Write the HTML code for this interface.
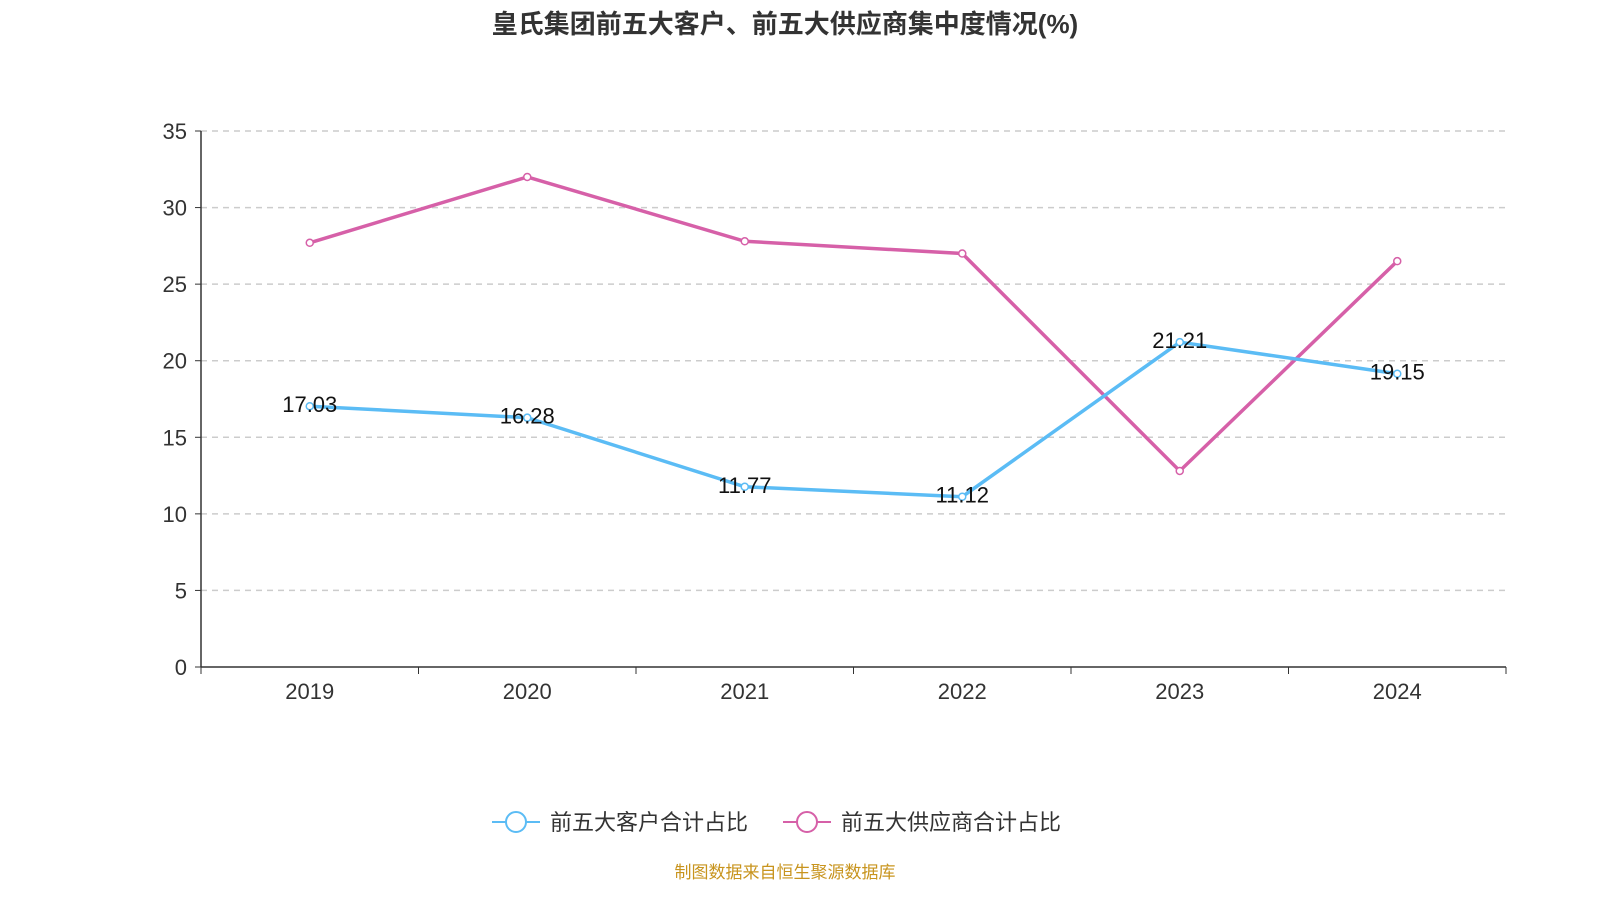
<!DOCTYPE html>
<html><head><meta charset="utf-8"><style>
body{margin:0;background:#fff;font-family:"Liberation Sans","Noto Sans CJK SC",sans-serif}
</style></head><body>
<svg id="c" width="1600" height="900" xmlns="http://www.w3.org/2000/svg">
<text x="785" y="33" text-anchor="middle" font-size="26" font-weight="bold" fill="#333" font-family="Liberation Sans,Noto Sans CJK SC,sans-serif">皇氏集团前五大客户、前五大供应商集中度情况(%)</text>
<g id="grid"></g><g id="axes"></g><g id="series"></g>
<g>
<line x1="492" y1="822" x2="540" y2="822" stroke="#5bbcf5" stroke-width="2"/>
<circle cx="516" cy="822" r="10" fill="#fff" stroke="#5bbcf5" stroke-width="2"/>
<text x="550" y="830" font-size="22" fill="#333">前五大客户合计占比</text>
<line x1="783" y1="822" x2="831" y2="822" stroke="#d660a8" stroke-width="2"/>
<circle cx="807" cy="822" r="10" fill="#fff" stroke="#d660a8" stroke-width="2"/>
<text x="841" y="830" font-size="22" fill="#333">前五大供应商合计占比</text>
</g>
<text x="785" y="878" text-anchor="middle" font-size="17" fill="#c8941e">制图数据来自恒生聚源数据库</text>
</svg>
<script>
const categories=["2019","2020","2021","2022","2023","2024"];
const customers=[17.03,16.28,11.77,11.12,21.21,19.15];
const suppliers=[27.7,32.0,27.8,27.0,12.8,26.5];
const yTicks=[0,5,10,15,20,25,30,35];
const NS="http://www.w3.org/2000/svg";
const L=201,R=1506,T=131,B=667,yMax=35;
const x=i=>L+(R-L)/categories.length*(i+0.5);
const y=v=>B-(B-T)*v/yMax;
function mk(tag,attrs,parent){const e=document.createElementNS(NS,tag);for(const k in attrs)e.setAttribute(k,attrs[k]);document.getElementById(parent).appendChild(e);return e;}
yTicks.forEach(t=>{
 if(t>0){const g=mk('line',{x1:L,x2:R,y1:y(t),y2:y(t),stroke:'#ccc','stroke-dasharray':'6,5','stroke-width':1.5},'grid');
 
 }
 mk('line',{x1:L-6,x2:L,y1:y(t),y2:y(t),stroke:'#333'},'axes');
 const tx=mk('text',{x:L-14,y:y(t)+8,'text-anchor':'end','font-size':22,fill:'#333'},'axes');tx.textContent=t;
 
 
});
mk('line',{x1:L,x2:L,y1:T,y2:B,stroke:'#333','stroke-width':1.5},'axes');
mk('line',{x1:L,x2:R,y1:B,y2:B,stroke:'#333','stroke-width':1.5},'axes');
for(let i=0;i<=categories.length;i++){const px=L+(R-L)/categories.length*i;mk('line',{x1:px,x2:px,y1:B,y2:B+7,stroke:'#333'},'axes');}
categories.forEach((c,i)=>{const t=mk('text',{x:x(i),y:699,'text-anchor':'middle','font-size':22,fill:'#333'},'axes');t.textContent=c;
 
 });
function draw(vals,color,name,labels){
 const p=mk('polyline',{points:vals.map((v,i)=>x(i)+','+y(v)).join(' '),fill:'none',stroke:color,'stroke-width':3.5},'series');
 
 
 vals.forEach((v,i)=>{const c=mk('circle',{cx:x(i),cy:y(v),r:3.5,fill:'#fff',stroke:color,'stroke-width':1.5},'series');
  
  
  if(labels){const t=mk('text',{x:x(i),y:y(v)+6,'text-anchor':'middle','font-size':22,fill:'#111'},'series');t.textContent=v.toFixed(2);
  
  }
 });
}
draw(suppliers,'#d660a8','suppliers',false);
draw(customers,'#5bbcf5','customers',true);
</script>
</body></html>
